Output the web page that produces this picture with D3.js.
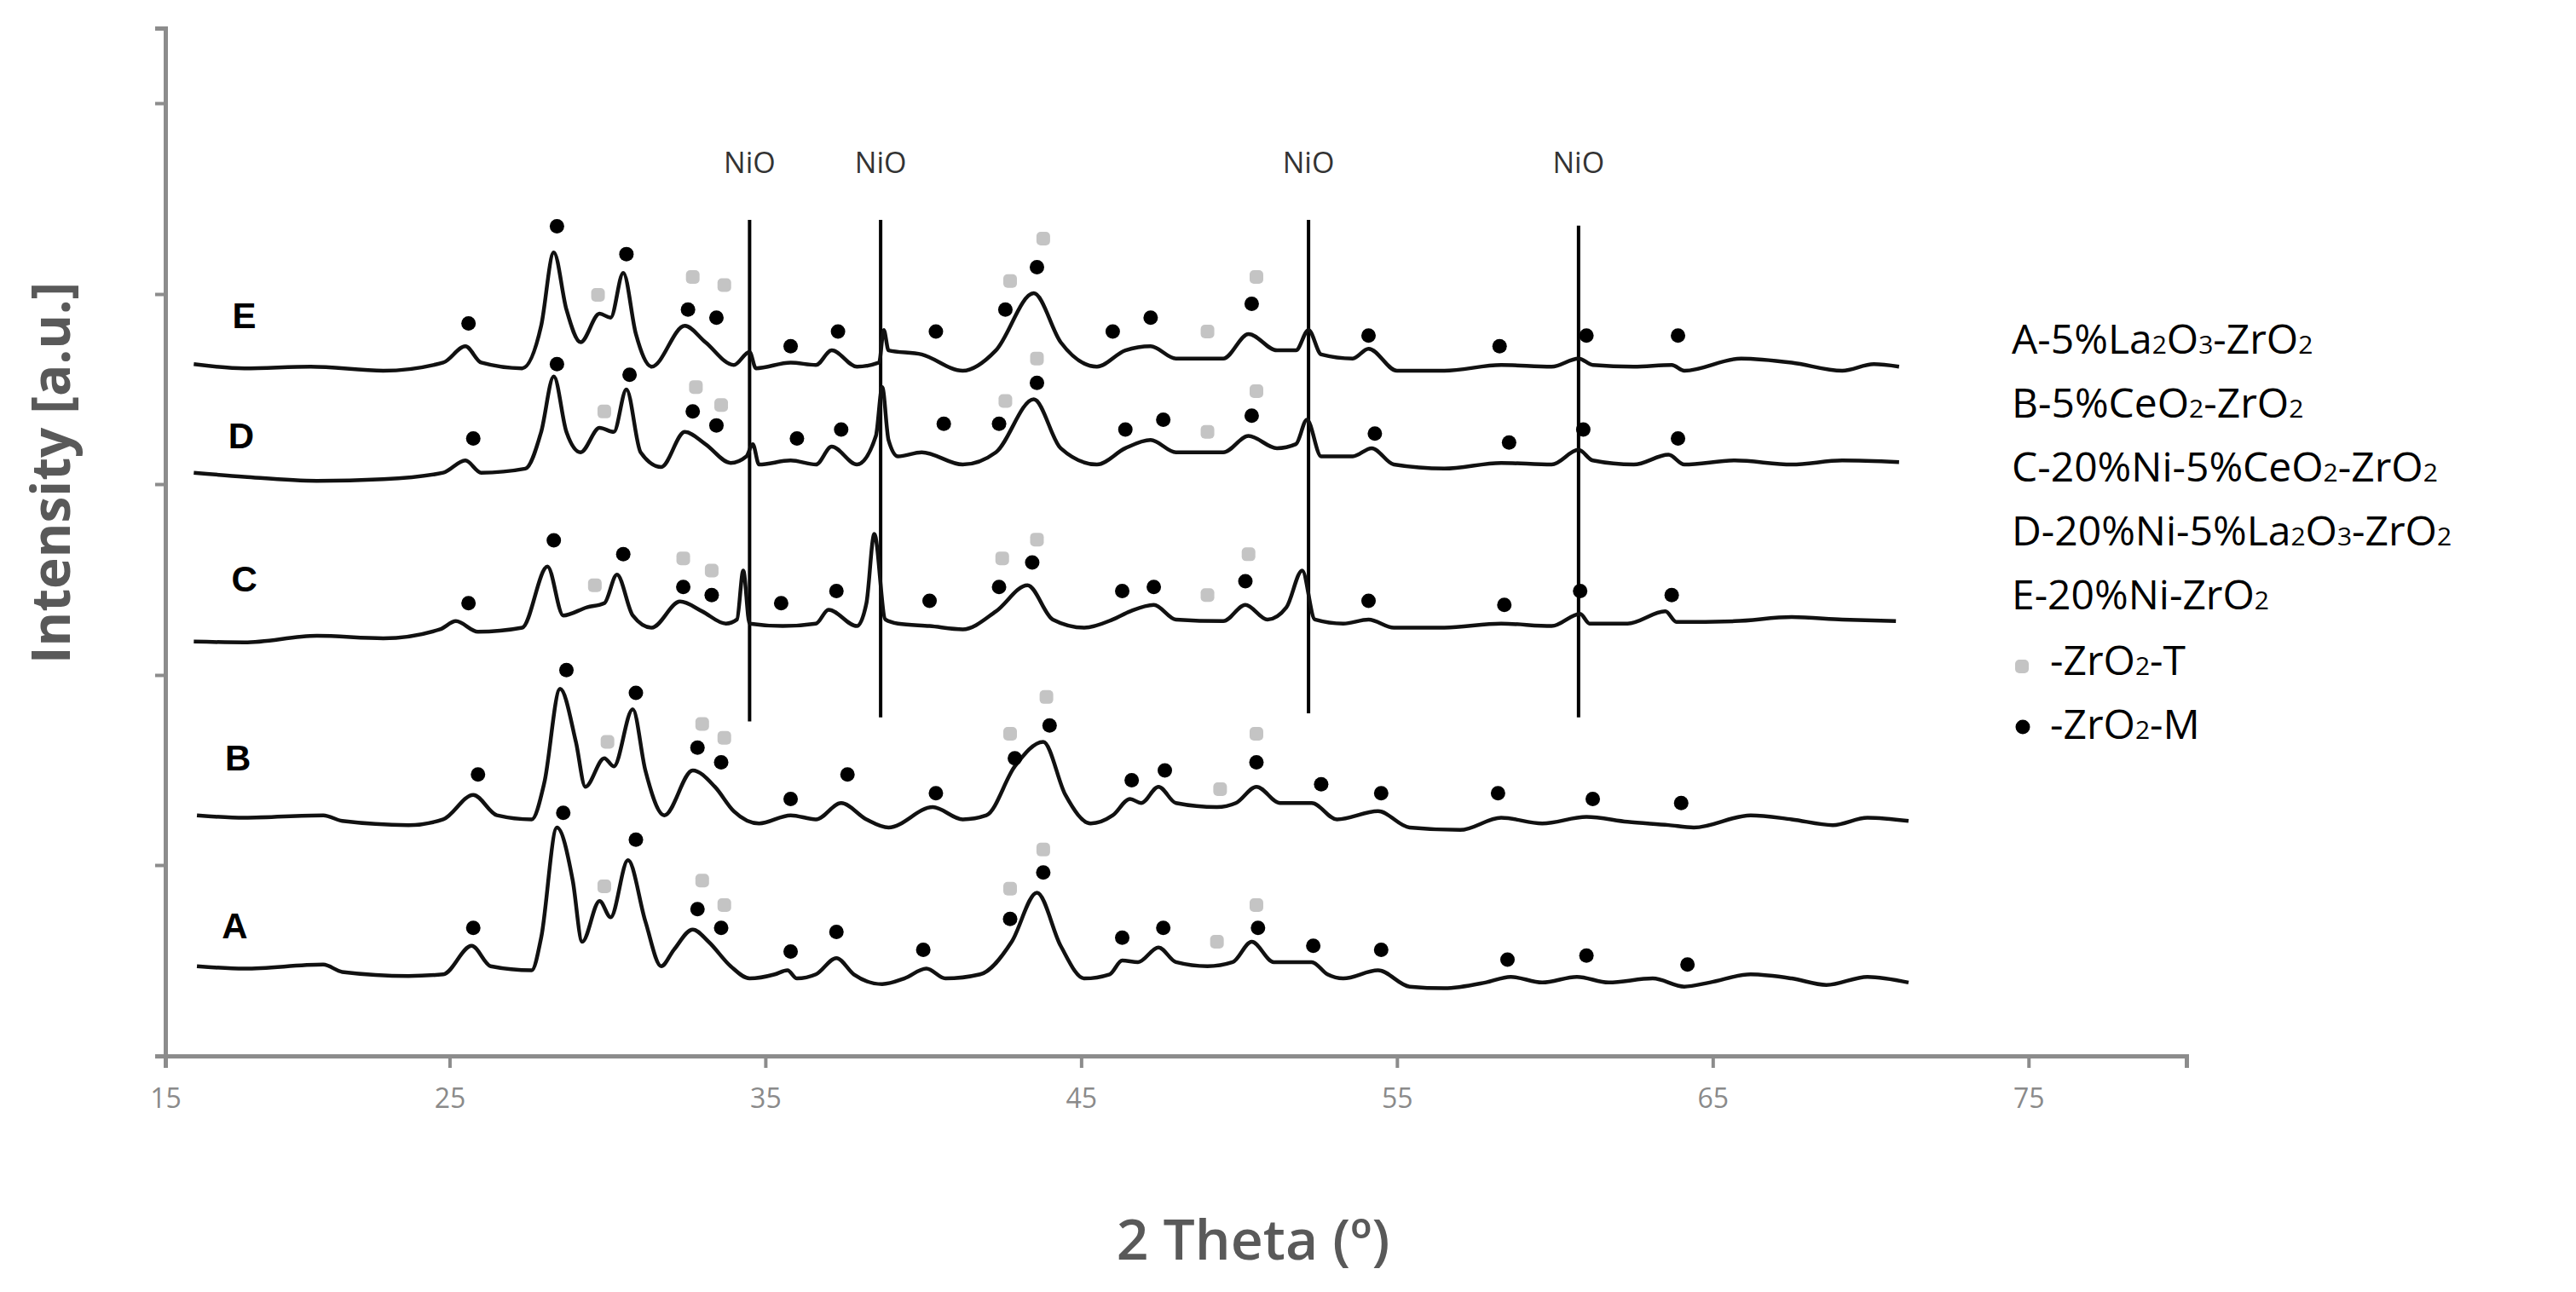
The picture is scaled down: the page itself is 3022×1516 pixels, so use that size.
<!DOCTYPE html>
<html>
<head>
<meta charset="utf-8">
<script src="https://cdn.jsdelivr.net/npm/d3@7"></script>
<style>
  body { margin: 0; background: #fff; }
  svg { display: block; }
</style>
</head>
<body>
<svg id="chart" width="3022" height="1516"></svg>
<script>
// patterns: [2theta, intensity (a.u., curves stacked)]
var patternA = [[17.0,110],[18.5,107],[21.0,112],[21.6,103],[23.7,98],[24.8,100],[25.7,135],[26.3,110],[27.6,105],[27.9,145],[28.4,280],[28.9,215],[29.2,140],[29.75,190],[30.1,170],[30.65,240],[31.2,165],[31.7,110],[32.1,130],[32.7,155],[33.2,140],[33.9,110],[34.5,95],[35.3,100],[35.7,105],[36.0,95],[36.6,100],[37.25,120],[37.8,100],[38.7,88],[39.4,95],[40.1,107],[40.7,95],[41.8,100],[42.8,140],[43.6,200],[44.35,135],[45.1,95],[45.9,100],[46.3,117],[46.8,115],[47.45,133],[48.0,115],[49.0,110],[49.8,115],[50.4,140],[51.1,115],[52.3,115],[52.8,100],[53.3,95],[54.4,105],[55.4,85],[56.5,83],[57.8,90],[58.6,97],[59.6,90],[60.7,97],[61.7,90],[63.1,95],[64.1,85],[64.9,90],[66.2,100],[67.5,95],[68.6,87],[69.9,97],[71.2,90]];
var patternB = [[17.0,295],[18.5,292],[21.0,295],[21.6,288],[23.7,283],[24.8,290],[25.75,320],[26.5,295],[27.6,290],[28.0,335],[28.5,450],[29.0,385],[29.3,330],[29.9,365],[30.2,355],[30.8,425],[31.2,350],[31.8,295],[32.7,350],[33.4,330],[34.0,300],[34.8,285],[35.8,295],[36.6,290],[37.4,310],[38.2,290],[38.9,280],[40.3,305],[41.25,290],[42.0,295],[42.9,355],[43.8,385],[44.5,320],[45.3,285],[46.0,295],[46.55,315],[46.9,310],[47.45,330],[48.0,310],[49.3,305],[49.9,310],[50.55,330],[51.3,310],[52.3,310],[53.1,290],[54.4,300],[55.4,280],[57.0,277],[58.3,292],[59.6,285],[61.0,293],[62.3,287],[63.6,283],[64.4,280],[66.2,295],[67.5,290],[68.8,283],[69.9,292],[71.2,288]];
var patternC = [[16.9,508],[18.5,507],[20.8,515],[22.9,512],[24.7,523],[25.2,533],[25.9,520],[27.3,525],[28.1,600],[28.6,540],[29.35,550],[29.9,555],[30.3,590],[30.8,540],[31.4,525],[32.3,557],[33.0,545],[33.75,530],[34.1,535],[34.3,595],[34.5,530],[35.55,527],[36.6,530],[37.0,547],[37.9,527],[38.2,555],[38.45,640],[38.8,535],[39.2,530],[40.2,527],[41.25,523],[42.3,545],[43.3,577],[44.1,535],[45.1,525],[46.0,535],[46.55,545],[47.3,553],[48.0,535],[49.5,533],[50.2,553],[50.9,535],[51.5,550],[52.0,595],[52.4,535],[53.3,530],[54.1,535],[54.9,525],[56.5,525],[58.3,530],[59.9,527],[60.8,542],[61.1,530],[62.3,530],[63.5,545],[63.85,532],[65.7,533],[67.5,538],[69.1,535],[70.8,533]];
var patternD = [[16.9,715],[18.5,710],[20.8,705],[22.9,707],[24.8,715],[25.5,730],[26.0,715],[27.4,720],[27.9,765],[28.3,833],[28.7,765],[29.15,740],[29.75,770],[30.2,765],[30.6,817],[31.05,740],[31.7,722],[32.45,765],[33.1,750],[33.9,727],[34.4,735],[34.6,750],[34.8,725],[35.8,730],[36.6,725],[37.1,747],[37.9,725],[38.5,760],[38.7,820],[38.9,755],[39.2,735],[39.95,740],[41.25,725],[42.3,740],[43.5,805],[44.35,745],[45.5,725],[46.4,745],[47.2,755],[48.0,740],[49.5,740],[50.3,760],[51.2,745],[51.8,750],[52.15,780],[52.6,735],[53.6,735],[54.2,745],[54.9,725],[56.5,720],[58.3,727],[59.9,725],[60.75,743],[61.2,730],[62.5,725],[63.6,737],[64.1,725],[65.7,730],[67.5,725],[69.1,730],[70.9,728]];
var patternE = [[16.9,848],[18.5,843],[20.6,845],[22.9,840],[24.8,850],[25.5,870],[26.0,850],[27.3,843],[27.9,895],[28.3,985],[28.7,915],[29.15,875],[29.75,910],[30.1,905],[30.5,960],[30.9,885],[31.4,845],[32.45,895],[33.1,875],[34.0,847],[34.5,863],[34.7,843],[35.8,850],[36.6,847],[37.1,865],[37.9,845],[38.6,850],[38.75,890],[38.9,865],[39.95,860],[41.25,840],[42.3,865],[43.5,935],[44.35,875],[45.5,845],[46.4,865],[47.2,870],[48.0,855],[49.5,855],[50.3,885],[51.2,865],[51.8,865],[52.2,890],[52.6,860],[53.6,855],[54.1,867],[55.0,840],[56.5,840],[58.3,847],[59.9,845],[60.75,855],[61.2,847],[62.5,845],[63.7,847],[64.1,840],[65.9,855],[67.5,850],[69.1,840],[70.1,848],[70.9,845]];
var patterns = [patternA, patternB, patternC, patternD, patternE];

// curve letters: [letter, 2theta, intensity]
var curveLetters = [["A",18.2,160],["B",18.3,365],["C",18.5,585],["D",18.4,760],["E",18.5,908]];

// ZrO2 monoclinic (black) and tetragonal (grey) marks: [2theta, intensity]
var monoclinic = [
  [25.75,157],[28.6,298],[30.9,265],[32.85,180],[33.6,157],[35.8,128],[37.25,152],[40.0,130],[42.75,168],[43.8,225],[46.3,145],[47.6,157],[50.6,157],[52.35,135],[54.5,130],[58.5,118],[61.0,123],[64.2,112],
  [25.9,345],[28.7,473],[30.9,445],[32.85,378],[33.6,360],[35.8,315],[37.6,345],[40.4,322],[42.9,365],[44.0,405],[46.6,338],[47.65,350],[50.55,360],[52.6,333],[54.5,322],[58.2,322],[61.2,315],[64.0,310],
  [25.6,555],[28.3,632],[30.5,615],[32.4,575],[33.3,565],[35.5,555],[37.25,570],[40.2,558],[42.4,575],[43.45,605],[46.3,570],[47.3,575],[50.2,582],[54.1,558],[58.4,553],[60.8,570],[63.7,565],
  [25.75,757],[28.4,848],[30.7,835],[32.7,790],[33.45,773],[36.0,757],[37.4,768],[40.65,775],[42.4,775],[43.6,825],[46.4,768],[47.6,780],[50.4,785],[54.3,763],[58.55,752],[60.9,768],[63.9,757],
  [25.6,898],[28.4,1017],[30.6,983],[32.55,915],[33.45,905],[35.8,870],[37.3,888],[40.4,888],[42.6,915],[43.6,967],[46.0,888],[47.2,905],[50.4,922],[54.1,883],[58.25,870],[61.0,883],[63.9,883]
];
var tetragonal = [
  [29.9,208],[33.0,215],[33.7,185],[42.75,205],[43.8,253],[49.3,140],[50.55,185],
  [30.0,385],[33.0,407],[33.7,390],[42.75,395],[43.9,440],[49.4,327],[50.55,395],
  [29.6,577],[32.4,610],[33.3,595],[42.5,610],[43.6,633],[49.0,565],[50.3,615],
  [29.9,790],[32.8,820],[33.6,798],[42.6,803],[43.6,855],[49.0,765],[50.55,815],
  [29.7,933],[32.7,955],[33.7,945],[42.75,950],[43.8,1002],[49.0,888],[50.55,955]
];

// NiO reference lines: [2theta, bottom, top]
var nioLines = [[34.5,410,1025],[38.65,415,1025],[52.2,420,1025],[60.75,415,1018]];

var xTicks = [16, 25, 35, 45, 55, 65, 75];
var xTickLabels = ["15", "25", "35", "45", "55", "65", "75"];
var yTicks = [234, 467, 701, 934, 1168];

var legendItems = [
  ["A-5%La", "2", "O", "3", "-ZrO", "2"],
  ["B-5%CeO", "2", "-ZrO", "2"],
  ["C-20%Ni-5%CeO", "2", "-ZrO", "2"],
  ["D-20%Ni-5%La", "2", "O", "3", "-ZrO", "2"],
  ["E-20%Ni-ZrO", "2"]
];

var svg = d3.select("#chart");
var x = d3.scaleLinear().domain([16, 80]).range([194, 2565]);
var y = d3.scaleLinear().domain([0, 1260]).range([1239, 33]);
var axisGrey = "#8c8c8c";

// axes
var xAxis = svg.append("g")
    .attr("transform", "translate(0," + y(0) + ")")
    .call(d3.axisBottom(x).tickValues(xTicks).tickSize(14).tickPadding(24)
	  .tickFormat(function (d, i) { return xTickLabels[i]; }));
xAxis.select(".domain").attr("stroke", axisGrey).attr("stroke-width", 5);
xAxis.selectAll(".tick line").attr("stroke", axisGrey).attr("stroke-width", 4);
xAxis.selectAll(".tick text").attr("fill", "#8a8a8a")
    .style("font", "32px 'Open Sans'");

var yAxis = svg.append("g")
    .attr("transform", "translate(" + x(16) + ",0)")
    .call(d3.axisLeft(y).tickValues(yTicks).tickSize(12).tickFormat(""));
yAxis.select(".domain").attr("stroke", axisGrey).attr("stroke-width", 5);
yAxis.selectAll(".tick line").attr("stroke", axisGrey).attr("stroke-width", 4);

// axis titles
svg.append("text")
    .attr("transform", "translate(82,555) rotate(-90)")
    .attr("text-anchor", "middle")
    .attr("fill", "#595959")
    .style("font", "bold 62px 'Open Sans'")
    .text("Intensity [a.u.]");
svg.append("text")
    .attr("x", 1470).attr("y", 1478)
    .attr("text-anchor", "middle")
    .attr("fill", "#595959")
    .style("font", "600 66px 'Open Sans'")
    .text("2 Theta (º)");

// NiO lines and labels
svg.selectAll(".nio").data(nioLines).enter().append("line")
    .attr("x1", function (d) { return x(d[0]); })
    .attr("x2", function (d) { return x(d[0]); })
    .attr("y1", function (d) { return y(d[1]); })
    .attr("y2", function (d) { return y(d[2]); })
    .attr("stroke", "#000").attr("stroke-width", 4);
svg.selectAll(".niolabel").data(nioLines).enter().append("text")
    .attr("x", function (d) { return x(d[0]); })
    .attr("y", y(1082))
    .attr("text-anchor", "middle")
    .attr("fill", "#333")
    .style("font", "34px 'Open Sans'")
    .text("NiO");

// patterns
var line = d3.line()
    .x(function (d) { return x(d[0]); })
    .y(function (d) { return y(d[1]); })
    .curve(d3.curveMonotoneX);
svg.selectAll(".pattern").data(patterns).enter().append("path")
    .attr("d", line)
    .attr("fill", "none")
    .attr("stroke", "#111")
    .attr("stroke-width", 4.5)
    .attr("stroke-linejoin", "round");

// phase marks
svg.selectAll(".tmark").data(tetragonal).enter().append("rect")
    .attr("x", function (d) { return x(d[0]) - 8; })
    .attr("y", function (d) { return y(d[1]) - 8; })
    .attr("width", 16).attr("height", 16).attr("rx", 5)
    .attr("fill", "#c4c4c4");
svg.selectAll(".mmark").data(monoclinic).enter().append("circle")
    .attr("cx", function (d) { return x(d[0]); })
    .attr("cy", function (d) { return y(d[1]); })
    .attr("r", 8.5)
    .attr("fill", "#000");

// curve letters
svg.selectAll(".letter").data(curveLetters).enter().append("text")
    .attr("x", function (d) { return x(d[1]); })
    .attr("y", function (d) { return y(d[2]); })
    .attr("text-anchor", "middle")
    .attr("dy", "0.35em")
    .attr("fill", "#000")
    .style("font", "bold 42px 'Liberation Sans'")
    .text(function (d) { return d[0]; });

// legend
var legend = svg.append("g").style("font", "500 48px 'Open Sans'").attr("fill", "#000");
legendItems.forEach(function (parts, i) {
    var t = legend.append("text").attr("x", 2360).attr("y", 415 + i * 75);
    parts.forEach(function (p, j) {
	var isSub = (j % 2 == 1);
	t.append("tspan").text(p).style("font-size", isSub ? "30px" : null);
    });
});
legend.append("rect").attr("x", 2364).attr("y", 774).attr("width", 16).attr("height", 16).attr("rx", 5).attr("fill", "#c4c4c4");
legend.append("circle").attr("cx", 2373).attr("cy", 853).attr("r", 8.5).attr("fill", "#000");
[["-ZrO", "2", "-T"], ["-ZrO", "2", "-M"]].forEach(function (parts, i) {
    var t = legend.append("text").attr("x", 2405).attr("y", 792 + i * 75);
    parts.forEach(function (p, j) {
	t.append("tspan").text(p).style("font-size", j == 1 ? "30px" : null);
    });
});
</script>
</body>
</html>
